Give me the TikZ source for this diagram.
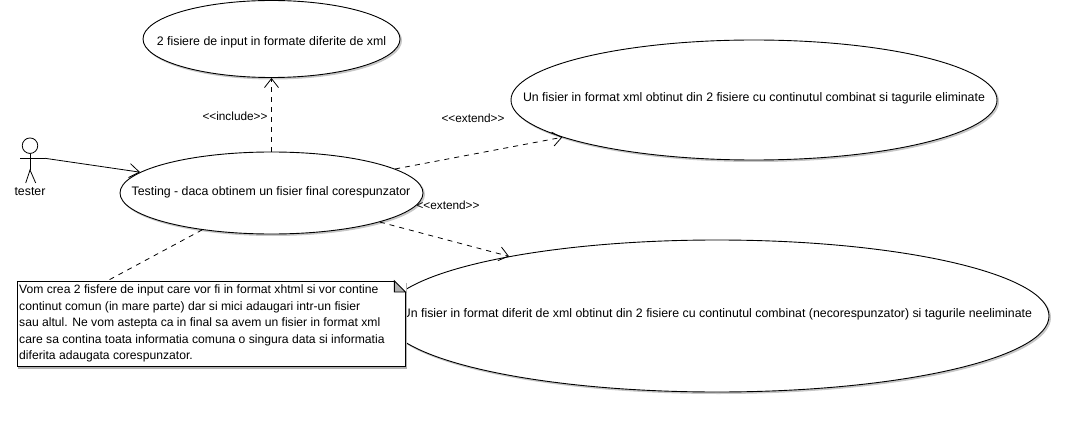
\documentclass[tikz,border=0pt]{standalone}
\usepackage{fontspec}
\setmainfont{Liberation Sans}
\usetikzlibrary{arrows.meta,shapes.geometric,calc}
\tikzset{
  usecase/.style={ellipse,draw=black,fill=white,line width=0.9pt,inner sep=0pt,
    preaction={draw=black!22,fill=black!22,line width=1pt,transform canvas={shift={(1.5pt,-1.5pt)}}}},
  lbl/.style={font=\fontsize{12.35pt}{14pt}\selectfont,inner sep=0pt,text=black},
  stereo/.style={font=\fontsize{11.8pt}{14pt}\selectfont,inner sep=0pt,text=black},
  dep/.style={draw=black,line width=0.8pt,dash pattern=on 5pt off 5pt,-{Straight Barb[length=9pt,width=14pt,line width=0.8pt]}},
  notelink/.style={draw=black,line width=0.8pt,dash pattern=on 5pt off 5pt},
  assoc/.style={draw=black,line width=0.8pt,-{Straight Barb[length=10pt,width=14pt,line width=0.8pt]}},
  notebox/.style={rectangle,draw=black,fill=white,line width=0.9pt,minimum width=388pt,minimum height=85pt,inner sep=0pt,
    preaction={draw=black!30,fill=black!30,line width=1pt,transform canvas={shift={(2pt,-2pt)}}}},
  actorline/.style={draw=black,line width=0.8pt}
}
\begin{document}
\begin{tikzpicture}[x=1pt,y=-1pt]
\useasboundingbox (0,0) rectangle (1078,422);
\node[usecase,minimum width=257pt,minimum height=77pt] (e1) at (271.5,39) {};
\node[lbl] at (271.5,42.5) {2 fisiere de input in formate diferite de xml};
\node[usecase,minimum width=303pt,minimum height=82pt] (e2) at (271.5,193) {};
\node[lbl] at (271,192) {Testing - daca obtinem un fisier final corespunzator};
\node[usecase,minimum width=486pt,minimum height=120pt] (e3) at (754,100) {};
\node[lbl] at (754,98) {Un fisier in format xml obtinut din 2 fisiere cu continutul combinat si tagurile eliminate};
\node[usecase,minimum width=664pt,minimum height=152pt] (e4) at (717,316) {};
\node[lbl] at (717,314.5) {Un fisier in format diferit de xml obtinut din 2 fisiere cu continutul combinat (necorespunzator) si tagurile neeliminate};

% actor
\node[circle,draw=black,line width=0.8pt,minimum size=15.5pt,inner sep=0pt] (head) at (30,145.7) {};
\coordinate (neck) at (30,170);
\coordinate (armL) at (20,158.3);
\coordinate (armR) at (45,158.3);
\coordinate (footL) at (25.7,183);
\coordinate (footR) at (35.7,183);
\path[actorline] (head.south) -- (neck);
\path[actorline] (armL) -- (armR);
\path[actorline] (footL) -- (neck) -- (footR);
\node[lbl] (tester) at (30,192) {tester};

% connectors
\path[assoc] (armR) -- (e2.171.4);
\path[dep] (e2.north) -- (e1.south);
\path[dep] (e2.11.4) -- (e3.191);
\path[dep] (e2.-15.4) -- (e4.164.3);
\node[stereo] (inc) at (235,116) {<{}<include>{}>};
\node[stereo] (ext1) at (473,118) {<{}<extend>{}>};
\node[stereo] (ext2) at (448,205) {<{}<extend>{}>};

% note
\coordinate (noteatt) at (107,281);
\path[notelink] (e2.208.4) -- (noteatt);
\node[notebox,anchor=north west] (note) at (16.5,281) {};
\fill[white] (note.north east) ++(-11,-1) rectangle ++(12,12);
\draw[black,line width=0.9pt,fill=black!30] (note.north east) ++(-11,0) -- ++(0,11) -- ++(11,0) -- cycle;
\node[lbl,anchor=north west,align=left,font=\fontsize{12.15pt}{16.5pt}\selectfont] (notetext) at (19,284.5) {Vom crea 2 fisfere de input care vor fi in format xhtml si vor contine\\
continut comun (in mare parte) dar si mici adaugari intr-un fisier\\
sau altul. Ne vom astepta ca in final sa avem un fisier in format xml\\
care sa contina toata informatia comuna o singura data si informatia\\
diferita adaugata corespunzator.};
\end{tikzpicture}
\end{document}
